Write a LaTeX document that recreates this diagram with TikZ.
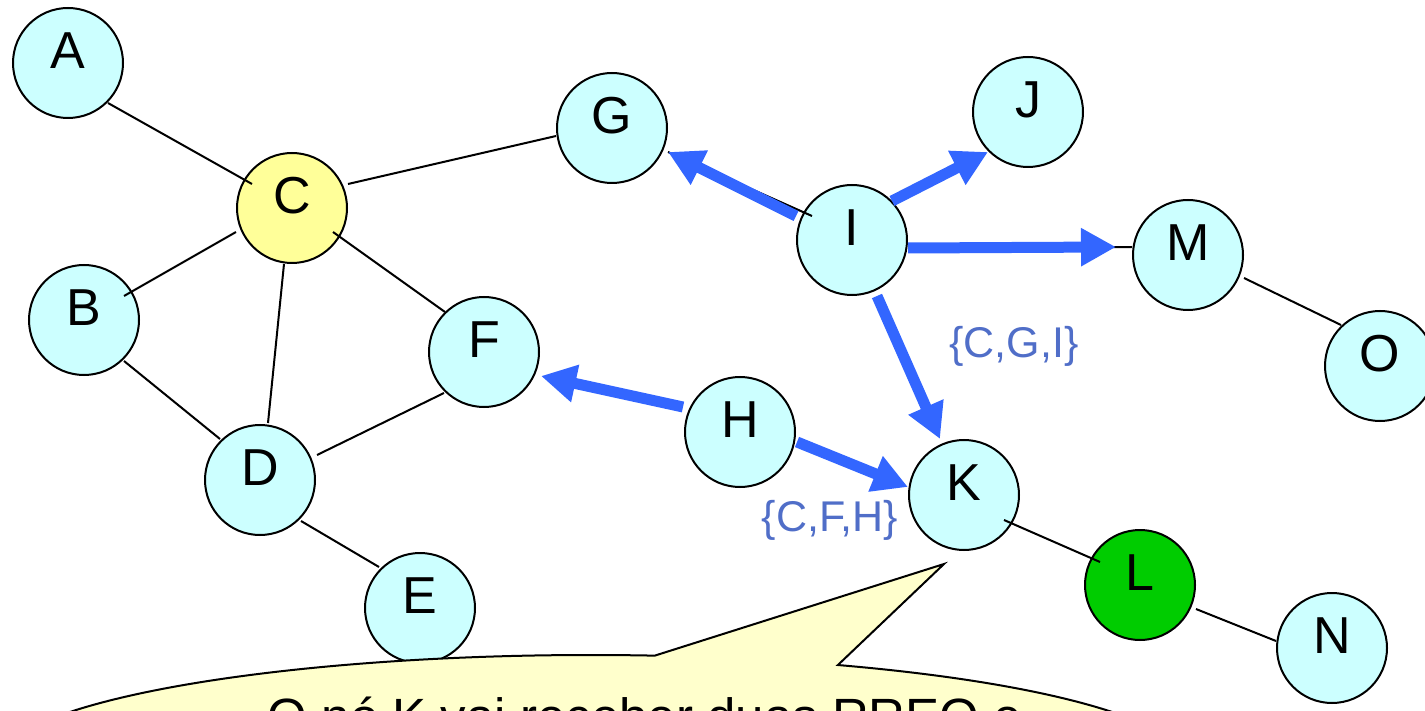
\documentclass[tikz,border=0pt]{standalone}
\usepackage{fontspec}
\setmainfont{Liberation Sans}
\usetikzlibrary{arrows.meta,calc}
\definecolor{nodecyan}{HTML}{CCFFFF}
\definecolor{nodeyellow}{HTML}{FFFF99}
\definecolor{nodegreen}{HTML}{00CC00}
\definecolor{calloutfill}{HTML}{FFFFCC}
\definecolor{arrowblue}{HTML}{3366FF}
\definecolor{labelblue}{RGB}{80,110,200}
\begin{document}
\begin{tikzpicture}[x=0.5pt,y=-0.5pt,
  netnode/.style={circle, draw=black, line width=1pt, fill=nodecyan, minimum size=55pt, inner sep=0pt,
    font=\fontsize{26}{30}\selectfont, text height=18.6pt, text depth=13pt},
  link/.style={draw=black, line width=1pt},
  flow/.style={draw=arrowblue, line width=5.5pt, -{Triangle[length=17.5pt,width=18pt]}},
  setlabel/.style={text=labelblue, font=\fontsize{21.5}{25}\selectfont, inner sep=0pt},
  bubble/.style={draw=black, line width=1pt, fill=calloutfill},
]
\useasboundingbox (0,0) rectangle (1425,711);

% nodes
\node[netnode] (A) at (68,63) {A};
\node[netnode] (B) at (84,320) {B};
\node[netnode, fill=nodeyellow] (C) at (292,208) {C};
\node[netnode] (D) at (260,480) {D};
\node[netnode] (E) at (420,608) {E};
\node[netnode] (F) at (484,352) {F};
\node[netnode] (G) at (612,128) {G};
\node[netnode] (H) at (740,432) {H};
\node[netnode] (I) at (852,240) {I};
\node[netnode] (J) at (1028,112) {J};
\node[netnode] (K) at (964,495) {K};
\node[netnode, fill=nodegreen] (L) at (1140,585) {L};
\node[netnode] (M) at (1188,255) {M};
\node[netnode] (N) at (1332,648) {N};
\node[netnode] (O) at (1380,366) {O};

% thin links
\draw[link] ($(A)+(40,40)$) -- ($(C)+(-40,-24)$);
\draw[link] ($(C)+(56,-24)$) -- ($(G)+(-56,8)$);
\draw[link] ($(B)+(40,-24)$) -- ($(C)+(-56,24)$);
\draw[link] ($(B)+(40,41)$) -- ($(D)+(-40,-41)$);
\draw[link] ($(C)+(-8,56)$) -- ($(D)+(8,-57)$);
\draw[link] ($(C)+(41,24)$) -- ($(F)+(-39,-40)$);
\draw[link] ($(D)+(57,-25)$) -- ($(F)+(-40,41)$);
\draw[link] ($(D)+(41,41)$) -- ($(E)+(-41,-41)$);
\draw[link] ($(K)+(40,25)$) -- ($(L)+(-40,-23)$);
\draw[link] ($(L)+(56,24)$) -- ($(N)+(-56,-7)$);
\draw[link] ($(M)+(56,23)$) -- ($(O)+(-39,-41)$);
\draw[link] ($(I)+(-40,-24)$) -- ($(G)+(56,24)$);
\draw[link] ($(I)+(56,8)$) -- ($(M)+(-56,-8)$);

% RREQ flows
\draw[flow] ($(I)+(-56,-24)$) -- ($(G)+(56,24)$);
\draw[flow] ($(I)+(40,-39)$) -- ($(J)+(-40,40)$);
\draw[flow] ($(I)+(56,8)$) -- ($(M)+(-72,-8)$);
\draw[flow] ($(I)+(25,56)$) -- ($(K)+(-24,-56)$);
\draw[flow] ($(H)+(-57,-25)$) -- ($(F)+(57,24)$);
\draw[flow] ($(H)+(57,10)$) -- ($(K)+(-56,-8)$);

% path labels
\node[setlabel] (cgi) at (1014,346) {\{C,G,I\}};
\node[setlabel] (cfh) at (830,520) {\{C,F,H\}};

% callout
\coordinate (bubblec) at (591,768);
\coordinate (bubbletip) at (944,564);
\draw[bubble] (bubbletip) -- ($(bubblec)+(-65.7:600 and 113)$)
  arc[start angle=-65.7, end angle=276.1, x radius=600, y radius=113] -- cycle;
\node[font=\fontsize{25.5}{30}\selectfont, anchor=base, inner sep=0pt] (note) at (645,734) {O nó K vai receber duas RREQ e};
\end{tikzpicture}
\end{document}
